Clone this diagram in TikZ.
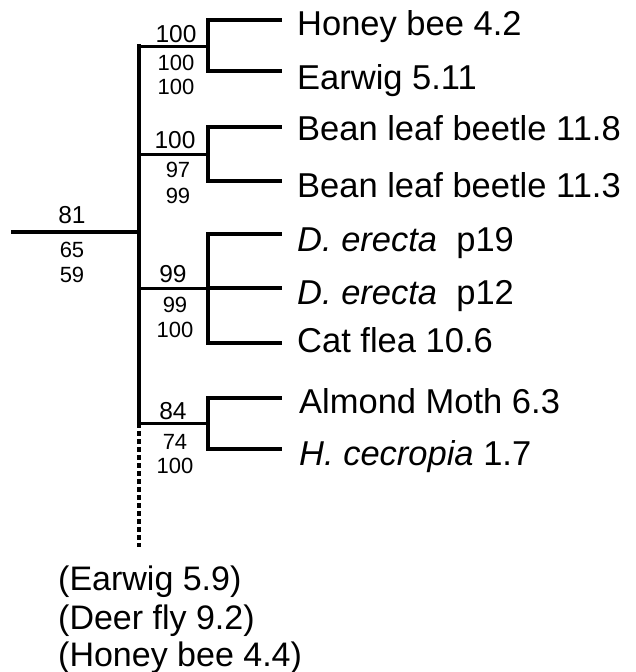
\documentclass[tikz,border=0pt]{standalone}
\usepackage{fontspec}
\setmainfont{Liberation Sans}
\begin{document}
\begin{tikzpicture}[x=1pt,y=-1pt,
  br/.style={line width=3.8pt,line cap=rect},
  thinbr/.style={line width=3pt},
  dotbr/.style={line width=3.8pt,dash pattern=on 5pt off 3pt},
  leaf/.style={anchor=base west,inner sep=0pt,font=\fontsize{34.5}{34.5}\selectfont},
  bs/.style={anchor=base,inner sep=0pt,font=\fontsize{24.5}{24.5}\selectfont},
  bsl/.style={anchor=base,inner sep=0pt,font=\fontsize{22}{22}\selectfont},
  note/.style={anchor=base west,inner sep=0pt,font=\fontsize{34}{34}\selectfont}]
\useasboundingbox (0,0) rectangle (636,672);
% coordinates
\coordinate (r0) at (13,232);
\coordinate (rj) at (139,232);
\coordinate (st) at (139,46);
\coordinate (sb) at (139,423);
\coordinate (se) at (139,547);
\coordinate (c1) at (208,46);
\coordinate (c2) at (208,154);
\coordinate (c3) at (208,288);
\coordinate (c4) at (208,423);
\coordinate (l1) at (280,20);
\coordinate (l2) at (280,71);
\coordinate (l3) at (280,127);
\coordinate (l4) at (280,181);
\coordinate (l5) at (280,234);
\coordinate (l6) at (280,288);
\coordinate (l7) at (280,343);
\coordinate (l8) at (280,398);
\coordinate (l9) at (280,449);
% leaf labels
\node[leaf] (t1) at (297,35) {Honey bee 4.2};
\node[leaf] (t2) at (297,89) {Earwig 5.11};
\node[leaf] (t3) at (297,140) {Bean leaf beetle 11.8};
\node[leaf] (t4) at (297,197) {Bean leaf beetle 11.3};
\node[leaf] (t5) at (297,251) {\textit{D. erecta}\ \ p19};
\node[leaf] (t6) at (297,304) {\textit{D. erecta}\ \ p12};
\node[leaf] (t7) at (297,352) {Cat flea 10.6};
\node[leaf] (t8) at (299,413) {Almond Moth 6.3};
\node[leaf] (t9) at (299,465) {\textit{H. cecropia} 1.7};
% tree
\draw[br] (r0) -- (rj);
\draw[br] (st) -- (sb);
\draw[dotbr] (sb) -- (se);
\draw[thinbr] (st) -- (c1);
\draw[thinbr] (139,154) -- (c2);
\draw[thinbr] (139,288) -- (c3);
\draw[thinbr] (sb) -- (c4);
\draw[br] (l1) -| (l2 -| c1) -- (l2);
\draw[br] (l3) -| (l4 -| c2) -- (l4);
\draw[br] (l5) -| (l7 -| c3) -- (l7);
\draw[br] (c3) -- (l6);
\draw[br] (l8) -| (l9 -| c4) -- (l9);
% support values
\node[bs] (b1a) at (176,42) {100};
\node[bsl] (b1b) at (176,70) {100};
\node[bsl] (b1c) at (176,94) {100};
\node[bs] (b2a) at (175,148) {100};
\node[bsl] (b2b) at (178,177) {97};
\node[bsl] (b2c) at (178,203) {99};
\node[bs] (b0a) at (72,223) {81};
\node[bsl] (b0b) at (72,257) {65};
\node[bsl] (b0c) at (72,282) {59};
\node[bs] (b3a) at (173,282) {99};
\node[bsl] (b3b) at (175,312) {99};
\node[bsl] (b3c) at (175,337) {100};
\node[bs] (b4a) at (173,419) {84};
\node[bsl] (b4b) at (175,449) {74};
\node[bsl] (b4c) at (175,473) {100};
% unplaced taxa
\node[note] (n1) at (58,590) {(Earwig 5.9)};
\node[note] (n2) at (58,629) {(Deer fly 9.2)};
\node[note] (n3) at (58,666) {(Honey bee 4.4)};
\end{tikzpicture}
\end{document}
